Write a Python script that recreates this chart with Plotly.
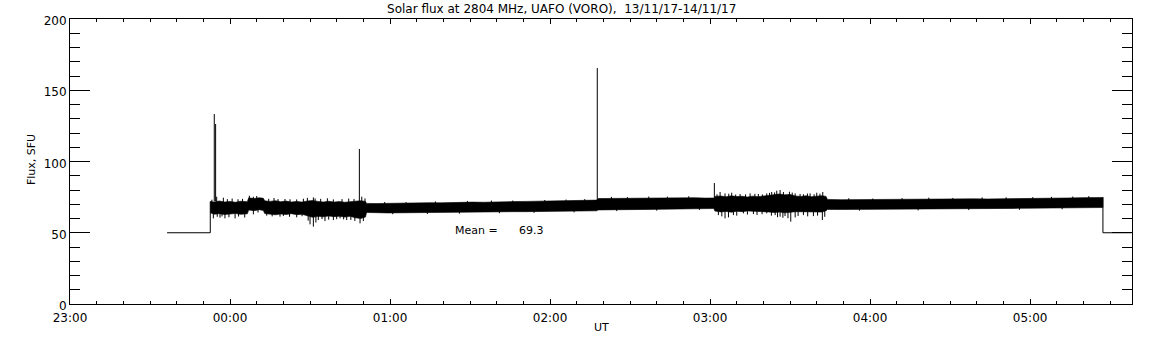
import pandas as pd
import plotly.graph_objects as go

# ---- data (time in minutes after 2017-11-13 23:00 UT, flux in SFU) ----
BASE = "2017-11-13 23:00"

# pre/post calibration level
pre_t = [36.4, 52.6, 52.6]
pre_v = [50, 50, 72]
post_t = [387.3, 387.3, 398.0]
post_v = [75, 50, 50]

# dense core of the record: time, upper and lower flux
band_t = [52.6, 54, 56, 58, 60, 62, 64, 66.5, 67, 69, 71, 72.5, 73, 75, 77, 79, 81, 83,
          85, 87, 89, 91, 93, 95, 97, 99, 101, 103, 105, 107, 109, 110.8, 111.2,
          115, 119, 123, 127, 131, 135, 139, 143, 147, 151, 155, 159, 163, 167, 171, 175,
          179, 183, 187, 191, 195, 197.5,
          198, 202, 206, 210, 214, 218, 222, 226, 230, 234, 238, 241.4,
          241.8, 244, 246, 248, 250, 252, 254, 256, 258, 260, 262, 264, 266, 268, 270, 272,
          274, 276, 278, 280, 282, 283.5,
          284, 289, 294, 299, 304, 309, 314, 319, 324, 329, 334, 339, 344, 349, 354, 359,
          364, 369, 374, 379, 384, 387.3]
band_hi = [72, 71.5, 72.3, 71.6, 72, 71.4, 72.1, 71.8, 74.5, 74, 74.6, 74.2, 72.4, 72,
           72.5, 71.8, 72.2, 71.6, 72, 71.5, 72.3, 72.6, 72, 71.6, 72.1, 71.5, 71.9, 71.4,
           71.8, 72.2, 72.5, 72, 70.6,
           70.5, 70.7, 70.6, 70.9, 70.8, 71.1, 71.0, 71.3, 71.2, 71.5, 71.4, 71.7, 71.7,
           71.9, 72.0, 72.1, 72.3, 72.3, 72.6, 72.6, 72.9, 72.9,
           74.0, 74.1, 74.0, 74.3, 74.2, 74.4, 74.3, 74.5, 74.5, 74.6, 74.3, 74.4,
           75.5, 75.8, 75.2, 75.9, 75.4, 75.6, 75.1, 75.7, 75.3, 75.8, 76.4, 76.8, 77.2,
           76.6, 76.9, 75.8, 75.5, 75.9, 75.3, 75.7, 76.0, 75.5,
           73.4, 73.2, 73.3, 73.1, 73.3, 73.2, 73.4, 73.5, 73.4, 73.6, 73.6, 73.8, 73.7,
           73.9, 74.0, 73.9, 74.2, 74.3, 74.4, 74.6, 74.8, 74.8]
band_lo = [64, 63, 63.4, 62.8, 63.2, 63.5, 62.9, 63.3, 66, 65.5, 66.2, 65.6, 63.5, 63,
           62.6, 63.2, 62.8, 63.4, 62.7, 63, 62, 60.8, 61.5, 61.2, 61.8, 61.3, 61.6, 61,
           61.5, 60.5, 60, 61, 64.2,
           64.1, 63.9, 64.0, 64.1, 64.0, 64.2, 64.2, 64.3, 64.4, 64.4, 64.6, 64.5, 64.7,
           64.8, 64.8, 65.0, 64.9, 65.1, 65.2, 65.1, 65.3, 65.4,
           66.0, 66.1, 66.2, 66.2, 66.4, 66.4, 66.5, 66.6, 66.7, 66.8, 67.0, 67.0,
           65.2, 64.6, 65.0, 64.4, 65.1, 64.8, 65.3, 64.9, 65.2, 64.7, 64.6, 64.2, 64.5,
           64.0, 64.3, 64.8, 65.1, 64.7, 65.0, 64.6, 64.5, 65.5,
           66.4, 66.3, 66.4, 66.3, 66.5, 66.5, 66.6, 66.6, 66.7, 66.8, 66.8, 66.9, 67.0,
           67.0, 67.1, 67.2, 67.2, 67.4, 67.5, 67.6, 67.7, 67.7]

# short excursions outside the core: time and extreme flux
needle_t = [55.0, 57.5, 67.25, 68.75, 71.9, 80.6, 85.0, 91.25, 91.9, 98.75, 109.4, 110.6,
            53.2, 59.0, 60.8, 63.0, 64.7, 70.0, 74.5, 76.5, 78.0, 82.5, 87.5, 89.0, 94.0,
            96.5, 102.0, 104.5, 106.5,
            53.75, 56.25, 58.1, 61.9, 68.75, 73.75, 78.75, 85.0, 90.0, 91.25, 93.1, 95.6,
            98.75, 101.25, 103.75, 108.75, 110.0,
            55.2, 57.0, 59.6, 63.2, 65.5, 70.5, 75.8, 80.0, 82.3, 87.0, 89.3, 92.2, 94.5,
            97.0, 100.0, 102.6, 105.3, 106.8,
            118, 126, 137, 149, 158, 166, 178, 186, 193, 203, 209, 217, 224, 232,
            121, 134, 146, 161, 174, 189, 205, 220, 236,
            243.75, 245.6, 248.1, 251.25, 255.0, 258.1, 261.25, 263.1, 265.0, 266.25,
            267.5, 269.75, 271.9, 273.75, 277.5, 280.0, 282.25,
            242.6, 247.0, 249.6, 253.3, 256.8, 259.6, 262.3, 264.2, 270.8, 275.0, 276.5,
            279.0, 281.2,
            243.1, 245.6, 246.9, 248.75, 252.5, 256.25, 261.25, 264.4, 266.25, 268.1,
            270.25, 271.9, 275.0, 278.75, 282.1,
            244.4, 250.0, 254.0, 257.6, 259.5, 263.0, 265.3, 267.3, 269.2, 273.0, 276.6,
            280.3, 283.0,
            292, 301, 312, 322, 331, 342, 351, 361, 368, 376, 382,
            296, 318, 337, 356, 372]
needle_v = [75.3, 74.6, 76.0, 75.3, 74.1, 73.7, 73.4, 74.8, 74.1, 73.4, 75.3, 74.1,
            73.2, 73.6, 74.0, 73.5, 73.8, 75.8, 73.8, 74.4, 73.6, 73.5, 73.9, 74.5, 73.8,
            74.2, 73.6, 74.0, 73.7,
            60.1, 60.6, 60.1, 60.1, 62.9, 62.0, 61.3, 60.8, 55.9, 54.3, 58.9, 58.2,
            58.9, 60.1, 58.9, 56.6, 58.2,
            61.2, 61.5, 60.9, 61.4, 60.7, 64.2, 61.5, 61.8, 61.2, 61.6, 58.5, 57.2, 59.6,
            59.2, 59.5, 59.4, 59.0, 58.3,
            71.6, 71.5, 72.0, 72.3, 72.6, 72.6, 73.0, 73.3, 73.6, 75.2, 75.0, 75.4, 75.3,
            75.6,
            63.0, 63.2, 63.4, 63.7, 64.0, 64.3, 65.2, 65.5, 66.0,
            78.6, 77.6, 78.1, 77.2, 77.6, 77.2, 77.6, 78.6, 79.5, 80.0,
            78.6, 78.8, 77.6, 77.2, 77.6, 78.1, 78.6,
            77.0, 77.4, 76.8, 76.9, 77.3, 76.9, 78.0, 78.3, 78.2, 77.0, 77.5,
            77.0, 77.4,
            62.4, 60.1, 60.8, 62.4, 63.6, 63.1, 63.6, 62.4, 61.3, 61.7,
            57.8, 60.8, 62.4, 61.7, 58.9,
            61.5, 62.0, 62.8, 62.5, 63.0, 62.0, 60.9, 60.5, 60.2, 61.8, 61.5,
            62.0, 61.2,
            74.2, 74.0, 74.3, 74.6, 74.4, 74.8, 74.9, 75.0, 75.2, 75.4, 75.7,
            65.5, 65.7, 65.9, 66.1, 66.5]

# isolated bursts: time, base level, peak
spike_t = [54.1, 54.6, 108.5, 197.7, 241.6]
spike_base = [72, 72, 72, 73, 75]
spike_peak = [133.3, 126.3, 108.8, 165.6, 84.9]

mean_label = "Mean ="
mean_value = "69.3"
title_text = "Solar flux at 2804 MHz, UAFO (VORO),\u00a0 13/11/17-14/11/17"

# ---- helpers ----
base = pd.Timestamp(BASE)


def tt(mins):
    return [base + pd.Timedelta(minutes=m) if m is not None else None for m in mins]


FONT = "DejaVu Sans"
W, H = 1152, 345
NEEDLE_ANCHOR = 68

fig = go.Figure()

poly_t = band_t + band_t[::-1]
poly_v = band_hi + band_lo[::-1]
fig.add_trace(go.Scatter(x=tt(poly_t), y=poly_v, mode="lines", fill="toself",
                         fillcolor="black", line=dict(color="black", width=0.6),
                         hoverinfo="skip", showlegend=False))

nx, ny = [], []
for t, v in zip(needle_t, needle_v):
    nx += [t, t, None]
    ny += [NEEDLE_ANCHOR, v, None]
fig.add_trace(go.Scatter(x=tt(nx), y=ny, mode="lines", connectgaps=False,
                         line=dict(color="black", width=1), hoverinfo="skip",
                         showlegend=False))

fig.add_trace(go.Scatter(x=tt(pre_t), y=pre_v, mode="lines",
                         line=dict(color="black", width=1), showlegend=False))
fig.add_trace(go.Scatter(x=tt(post_t), y=post_v, mode="lines",
                         line=dict(color="black", width=1), showlegend=False))

sx, sy = [], []
for t, b, p in zip(spike_t, spike_base, spike_peak):
    sx += [t, t, None]
    sy += [b, p, None]
fig.add_trace(go.Scatter(x=tt(sx), y=sy, mode="lines", connectgaps=False,
                         line=dict(color="black", width=1), showlegend=False))

fig.add_annotation(x=base + pd.Timedelta(minutes=143.6), y=51.9, text=mean_label,
                   showarrow=False, xanchor="left", yanchor="middle",
                   font=dict(family=FONT, size=11, color="black"))
fig.add_annotation(x=base + pd.Timedelta(minutes=167.6), y=51.9, text=mean_value,
                   showarrow=False, xanchor="left", yanchor="middle",
                   font=dict(family=FONT, size=11, color="black"))

fig.add_annotation(xref="paper", yref="paper", x=-0.0367, y=0.505, text="Flux, SFU",
                   textangle=-90, showarrow=False, xanchor="center", yanchor="middle",
                   font=dict(family=FONT, size=11, color="black"))
fig.add_annotation(xref="paper", yref="paper", x=0.5, y=-0.084, text="UT",
                   showarrow=False, xanchor="center", yanchor="middle",
                   font=dict(family=FONT, size=11, color="black"))

fig.update_layout(
    width=W, height=H,
    margin=dict(l=70, r=20, t=19, b=41),
    paper_bgcolor="white", plot_bgcolor="white",
    font=dict(family=FONT, size=12, color="black"),
    title=dict(text=title_text, xref="container", yref="container",
               x=561.7 / W, y=1 - 8.5 / H, xanchor="center",
               yanchor="middle", font=dict(family=FONT, size=12, color="black")),
    showlegend=False,
)
fig.update_xaxes(
    type="date",
    range=[base, base + pd.Timedelta(minutes=398.2)],
    tick0=base, dtick=3600000, tickformat="%H:%M",
    ticks="inside", ticklen=5, tickcolor="black",
    minor=dict(dtick=600000, ticks="inside", ticklen=3, tickcolor="black", showgrid=False),
    showline=True, linecolor="black", linewidth=1, mirror="allticks",
    showgrid=False, zeroline=False, ticklabelstandoff=3,
    tickfont=dict(family=FONT, size=12, color="black"),
)
fig.update_yaxes(
    range=[0, 200], tick0=0, dtick=50,
    ticks="inside", ticklen=20, tickcolor="black",
    minor=dict(dtick=10, ticks="inside", ticklen=10, tickcolor="black", showgrid=False),
    showline=True, linecolor="black", linewidth=1, mirror="allticks",
    showgrid=False, zeroline=False, ticklabelshift=2,
    tickfont=dict(family=FONT, size=12, color="black"),
)

fig.write_html("out.html", config={"displayModeBar": False},
               post_script="document.body.style.margin='0';document.body.style.padding='0';")
